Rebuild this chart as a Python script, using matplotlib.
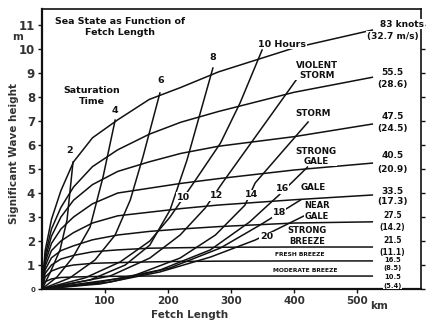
import matplotlib
matplotlib.use("Agg")
import matplotlib.pyplot as plt

# ---- data ----
fetch_km = [0, 5, 15, 30, 50, 80, 120, 170, 220, 280, 400, 525]
wind_knots = ["83 knots", "55.5", "47.5", "40.5", "33.5", "27.5", "21.5", "16.5", "10.5"]
wind_ms = ["(32.7 m/s)", "(28.6)", "(24.5)", "(20.9)", "(17.3)", "(14.2)", "(11.1)", "(8.5)", "(5.4)"]
h_83 = [0, 1.6, 2.9, 4.1, 5.3, 6.3, 7.05, 7.9, 8.4, 9.05, 10.05, 10.8]
h_555 = [0, 1.4, 2.5, 3.4, 4.25, 5.1, 5.8, 6.45, 6.95, 7.4, 8.2, 8.83]
h_475 = [0, 1.25, 2.2, 3.0, 3.7, 4.35, 4.9, 5.3, 5.65, 5.95, 6.35, 6.88]
h_405 = [0, 1.1, 1.9, 2.5, 3.0, 3.55, 4.0, 4.2, 4.4, 4.6, 4.96, 5.25]
h_335 = [0, 0.95, 1.6, 2.0, 2.35, 2.75, 3.05, 3.2, 3.35, 3.5, 3.72, 3.92]
h_275 = [0, 0.8, 1.3, 1.6, 1.8, 2.05, 2.25, 2.4, 2.5, 2.6, 2.75, 2.8]
h_215 = [0, 0.65, 1.0, 1.25, 1.4, 1.55, 1.63, 1.7, 1.72, 1.74, 1.75, 1.75]
h_165 = [0, 0.5, 0.75, 0.9, 1.0, 1.07, 1.1, 1.13, 1.15, 1.16, 1.17, 1.17]
h_105 = [0, 0.3, 0.42, 0.48, 0.5, 0.52, 0.53, 0.54, 0.54, 0.54, 0.54, 0.54]
wind_heights = [h_83, h_555, h_475, h_405, h_335, h_275, h_215, h_165, h_105]

# saturation-time (duration) lines: fetch (km) and height (m)
dur_hours = [2, 4, 6, 8, 10, 12, 14, 16, 18, 20]
d2_x = [0, 1.6, 12.7, 28.6, 39.7, 49.2]
d2_y = [0, 0.08, 0.67, 1.63, 2.88, 5.29]
d4_x = [0, 1.6, 23.8, 49.2, 76.2, 96.8, 116]
d4_y = [0, 0.04, 0.5, 1.33, 2.58, 4.67, 7.04]
d6_x = [0, 44, 84, 116, 140, 160, 187]
d6_y = [0, 0.46, 1.21, 2.25, 3.71, 5.5, 8.17]
d8_x = [0, 40, 76, 132, 171, 203, 230, 271]
d8_y = [0, 0.2, 0.375, 1.0, 1.83, 3.29, 5.38, 9.21]
d10_x = [0, 68, 124, 171, 203, 238, 283, 314, 349]
d10_y = [0, 0.46, 1.13, 2.0, 3.0, 4.33, 6.08, 7.75, 9.96]
d12_x = [0, 108, 171, 219, 259, 286, 403]
d12_y = [0, 0.54, 1.29, 2.25, 3.38, 4.42, 8.71]
d14_x = [0, 140, 219, 275, 322, 338, 422]
d14_y = [0, 0.5, 1.29, 2.25, 3.5, 4.42, 6.96]
d16_x = [0, 92, 187, 267, 329, 376, 421]
d16_y = [0, 0.29, 0.79, 1.63, 2.79, 3.92, 5.08]
d18_x = [0, 108, 203, 283, 346, 410]
d18_y = [0, 0.29, 0.88, 1.71, 2.67, 3.71]
d20_x = [0, 92, 187, 267, 338, 425]
d20_y = [0, 0.21, 0.71, 1.33, 2.04, 3.17]
dur_x = [d2_x, d4_x, d6_x, d8_x, d10_x, d12_x, d14_x, d16_x, d18_x, d20_x]
dur_y = [d2_y, d4_y, d6_y, d8_y, d10_y, d12_y, d14_y, d16_y, d18_y, d20_y]

y_ticks = list(range(0, 12))
x_ticks = [100, 200, 300, 400, 500]
x_tick_labels = ["100", "200", "300", "400", "500"]

# ---- figure ----
INK = "#111111"
plt.rcParams['font.family'] = ['DejaVu Sans']
fig = plt.figure(figsize=(4.32, 3.24), dpi=100)
ax = fig.add_axes([42/432, 1 - 289/324, (421-42)/432, (289-9)/324])
ax.set_xlim(0, 601)
ax.set_ylim(0, 11.67)

for h in wind_heights:
    ax.plot(fetch_km, h, color=INK, lw=1.1, solid_capstyle='butt', zorder=2)
for xs, ys in zip(dur_x, dur_y):
    ax.plot(xs, ys, color=INK, lw=1.1, zorder=2)

bold = dict(fontweight='bold', color=INK)
mask = dict(facecolor='white', edgecolor='none', pad=0.4)
mask_tight = dict(facecolor='white', edgecolor='none', pad=0.05)

# titles / labels inside
ax.text(124, 10.92, "Sea State as Function of\nFetch Length", ha='center', va='center',
        fontsize=6.8, linespacing=1.3, **bold)
ax.text(79, 8.04, "Saturation\nTime", ha='center', va='center', fontsize=6.8,
        linespacing=1.4, **bold)

hour_pos = [(44.4, 5.79), (116, 7.46), (189, 8.67), (271, 9.63), (381, 10.21),
            (224, 3.83), (276, 3.88), (332, 3.92), (381, 4.17), (376, 3.17), (356, 2.17)]
hour_text = [str(dur_hours[0]), str(dur_hours[1]), str(dur_hours[2]), str(dur_hours[3]),
             f"{dur_hours[4]} Hours", str(dur_hours[4]), str(dur_hours[5]), str(dur_hours[6]),
             str(dur_hours[7]), str(dur_hours[8]), str(dur_hours[9])]
for (x, y), t in zip(hour_pos, hour_text):
    ax.text(x, y, t, ha='center', va='center', fontsize=6.8, bbox=mask, zorder=4, **bold)

sea_names = [("VIOLENT\nSTORM", 436, 9.12, 6.3), ("STORM", 430, 7.33, 6.3),
             ("STRONG\nGALE", 435, 5.54, 6.3), ("GALE", 430, 4.21, 6.3),
             ("NEAR\nGALE", 436, 3.25, 6.0), ("STRONG\nBREEZE", 421, 2.21, 6.0),
             ("FRESH BREEZE", 409, 1.42, 4.3), ("MODERATE BREEZE", 417, 0.79, 4.3)]
for t, x, y, fs in sea_names:
    ax.text(x, y, t, ha='center', va='center', fontsize=fs, linespacing=1.15,
            bbox=mask, zorder=4, **bold)

# right end wind labels
knot_y = [11.04, 9.04, 7.17, 5.58, 4.08, 3.08, 2.04, 1.19, 0.52]
ms_y = [10.54, 8.54, 6.67, 5.0, 3.63, 2.58, 1.54, 0.88, 0.14]
for i, (k, m) in enumerate(zip(wind_knots, wind_ms)):
    if i < 5:
        fs, bb = 6.5, mask
    elif i < 7:
        fs, bb = 5.5, mask
    else:
        fs, bb = 4.9, mask_tight
    kx = 571 if i == 0 else 556
    ax.text(kx, knot_y[i], k, ha='center', va='center', fontsize=fs, bbox=bb, zorder=4,
            clip_on=False, **bold)
    ax.text(556, ms_y[i], m, ha='center', va='center', fontsize=fs, bbox=bb, zorder=4,
            clip_on=False, **bold)

# axes styling
for s in ax.spines.values():
    s.set_color(INK)
    s.set_linewidth(1.2)
ax.spines['left'].set_linewidth(1.6)
ax.spines['bottom'].set_linewidth(1.6)
ax.set_yticks(y_ticks)
ax.set_yticklabels([str(v) for v in y_ticks], fontsize=8.5, fontweight='bold', color='#333333')
ax.get_yticklabels()[0].set_fontsize(5)
ax.set_xticks(x_ticks)
ax.set_xticklabels(x_tick_labels, fontsize=7.5, fontweight='bold', color='#333333')
ax.tick_params(axis='both', direction='out', length=3, width=1, color=INK, pad=2)
ax.tick_params(axis='y', right=True, labelright=False)
ax.text(521, -0.5, "km", ha='left', va='top', fontsize=7.5, fontweight='bold',
        color='#333333', clip_on=False)
ax.text(-0.065, 10.5, "m", transform=ax.get_yaxis_transform(), ha='center', va='center',
        fontsize=7.5, fontweight='bold', color='#333333')

fig.text(14/432, 1 - 153/324, "Significant Wave height", rotation=90, ha='center', va='center',
         fontsize=7.5, fontweight='bold', color='#333333')
fig.text(190/432, 1 - 315/324, "Fetch Length", ha='center', va='center',
         fontsize=7.5, fontweight='bold', color='#333333')

fig.savefig("out.png", dpi=100)
